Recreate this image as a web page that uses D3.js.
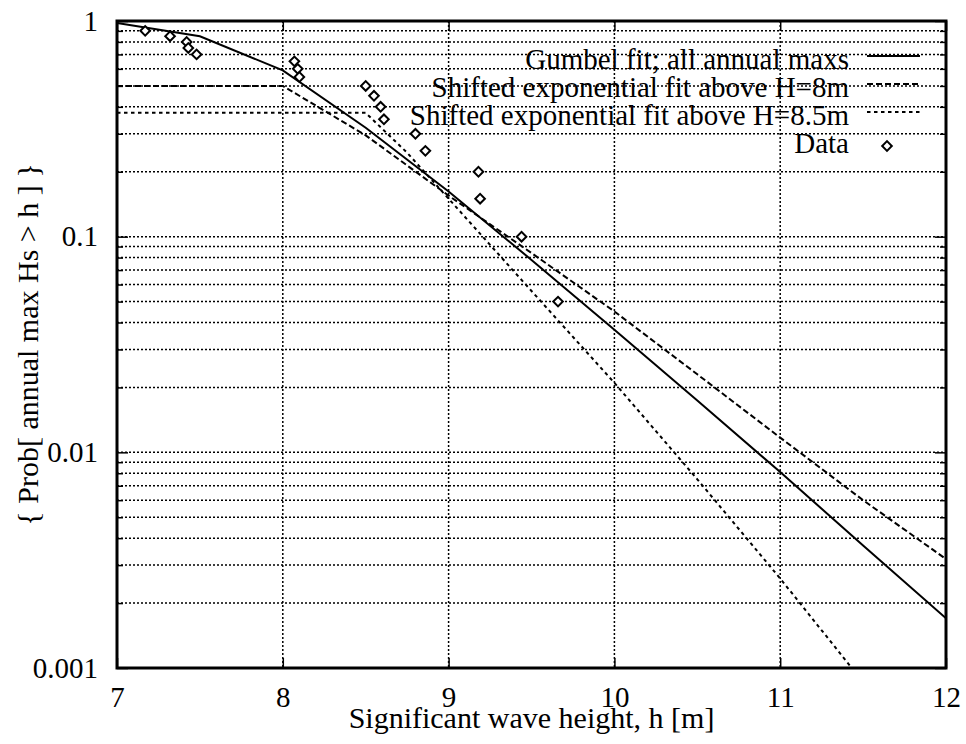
<!DOCTYPE html>
<html>
<head>
<meta charset="utf-8">
<script src="https://cdn.jsdelivr.net/npm/d3@7"></script>
<style>
body { margin: 0; background: #fff; }
svg text { font-family: "Liberation Serif", "DejaVu Serif", "Times New Roman", Times, serif !important; fill: #000; }
.grid line { stroke: #000; stroke-width: 1.5; stroke-dasharray: 2,2; }
.tick-axis .domain { display: none; }
.tick-axis line { stroke: #000; stroke-width: 1.5; }
</style>
</head>
<body>
<div id="chart"></div>
<script>
// fitted curves
var gumbelH = [7, 7.5, 8, 8.5, 9, 9.5, 10, 10.5, 11, 11.5, 12];
var gumbelP = [0.98, 0.85, 0.59, 0.32, 0.162, 0.078, 0.037, 0.0174, 0.0081, 0.0037, 0.0017];

var exp8H = [7, 8, 8.5, 9, 9.5, 10, 10.5, 11, 11.5, 12];
var exp8P = [0.5, 0.5, 0.295, 0.155, 0.084, 0.045, 0.023, 0.0117, 0.006, 0.0032];

var exp85H = [7, 8.5, 8.75, 9, 9.5, 10, 10.5, 11, 11.5];
var exp85P = [0.375, 0.375, 0.245, 0.15, 0.056, 0.021, 0.0075, 0.0026, 0.00086];

// observed annual maxima
var dataH = [7.17, 7.32, 7.42, 7.43, 7.48, 8.07, 8.09, 8.10, 8.50, 8.55, 8.59, 8.61, 8.80, 8.86, 9.18, 9.19, 9.44, 9.66];
var dataP = [0.9, 0.85, 0.8, 0.75, 0.7, 0.65, 0.6, 0.55, 0.5, 0.45, 0.4, 0.35, 0.3, 0.25, 0.2, 0.15, 0.1, 0.05];

var xTicks = [7, 8, 9, 10, 11, 12];
var yTicks = [0.001, 0.01, 0.1, 1];
var yTickLabels = ["0.001", "0.01", "0.1", "1"];

var legendLabels = ["Gumbel fit; all annual maxs", "Shifted exponential fit above H=8m",
                    "Shifted exponential fit above H=8.5m", "Data"];

function init() {
    var W = 966, H = 744;
    var left = 117, right = 946, top = 21, bottom = 668;
    var fs = 29;

    var x = d3.scaleLinear().domain([7, 12]).range([left, right]),
        y = d3.scaleLog().domain([0.001, 1]).range([bottom, top]);

    var minorY = [];
    yTicks.slice(0, 3).forEach(function(d) {
        for (var k = 1; k < 10; k++) minorY.push(d * k);
    });
    minorY.push(1);

    var svg = d3.select("#chart").append("svg")
        .attr("width", W)
        .attr("height", H);

    svg.append("defs").append("clipPath").attr("id", "plot")
       .append("rect").attr("x", left).attr("y", top)
       .attr("width", right - left).attr("height", bottom - top);

    // grid
    var grid = svg.append("g").attr("class", "grid");
    grid.selectAll(".hg")
        .data(minorY.filter(function(d) { return d > 0.0011 && d < 0.99; }))
        .enter().append("line")
        .attr("x1", left).attr("x2", right)
        .attr("y1", function(d) { return y(d); })
        .attr("y2", function(d) { return y(d); });
    grid.selectAll(".vg")
        .data(xTicks.slice(1, -1))
        .enter().append("line")
        .attr("y1", top).attr("y2", bottom)
        .attr("x1", function(d) { return x(d); })
        .attr("x2", function(d) { return x(d); });

    // tick marks (inward) on all four sides
    var isMajor = function(d) { return yTicks.some(function(t) { return Math.abs(t - d) < 1e-9; }); };
    [[d3.axisRight, left], [d3.axisLeft, right]].forEach(function(a) {
        var g = svg.append("g").attr("class", "tick-axis")
            .attr("transform", "translate(" + a[1] + ",0)")
            .call(a[0](y).tickValues(minorY).tickFormat("").tickSize(6));
        g.selectAll(".tick line").attr("x2", function(d) {
            var s = isMajor(d) ? 11 : 6;
            return a[1] === left ? s : -s;
        });
    });
    svg.append("g").attr("class", "tick-axis")
       .attr("transform", "translate(0," + bottom + ")")
       .call(d3.axisTop(x).tickValues(xTicks).tickFormat("").tickSize(10));
    svg.append("g").attr("class", "tick-axis")
       .attr("transform", "translate(0," + top + ")")
       .call(d3.axisBottom(x).tickValues(xTicks).tickFormat("").tickSize(10));

    // tick labels
    var xAxis = svg.append("g").attr("class", "tick-axis")
        .attr("transform", "translate(0," + bottom + ")")
        .call(d3.axisBottom(x).tickValues(xTicks).tickFormat(d3.format("d")).tickSize(0).tickPadding(18));
    xAxis.selectAll("text").attr("font-size", fs).attr("dy", "0.71em");

    var yAxis = svg.append("g").attr("class", "tick-axis")
        .attr("transform", "translate(" + left + ",0)")
        .call(d3.axisLeft(y).tickValues(yTicks)
              .tickFormat(function(d, i) { return yTickLabels[i]; })
              .tickSize(0).tickPadding(19));
    yAxis.selectAll("text").attr("font-size", fs);

    // curves
    var line = d3.line()
        .x(function(d) { return x(d[0]); })
        .y(function(d) { return y(d[1]); });
    var curves = [
        {h: gumbelH, p: gumbelP, dash: null},
        {h: exp8H, p: exp8P, dash: "6,3"},
        {h: exp85H, p: exp85P, dash: "3.5,3.5"}
    ];
    var plot = svg.append("g").attr("clip-path", "url(#plot)");
    curves.forEach(function(c) {
        plot.append("path")
            .datum(d3.zip(c.h, c.p))
            .attr("d", line)
            .attr("fill", "none")
            .attr("stroke", "#000")
            .attr("stroke-width", 2)
            .attr("stroke-dasharray", c.dash);
    });

    var diamond = d3.symbol().type(d3.symbolSquare).size(46);
    plot.selectAll(".pt")
        .data(d3.zip(dataH, dataP))
        .enter().append("path")
        .attr("d", diamond)
        .attr("transform", function(d) { return "translate(" + x(d[0]) + "," + y(d[1]) + ") rotate(45)"; })
        .attr("fill", "#fff")
        .attr("stroke", "#000")
        .attr("stroke-width", 2);

    // frame
    svg.append("rect")
       .attr("x", left).attr("y", top)
       .attr("width", right - left).attr("height", bottom - top)
       .attr("fill", "none").attr("stroke", "#000").attr("stroke-width", 3);

    // legend
    var leg = svg.append("g");
    legendLabels.forEach(function(t, i) {
        var cy = 59 + i * 28;
        leg.append("text")
           .attr("x", 849).attr("y", cy).attr("dy", "0.35em")
           .attr("text-anchor", "end").attr("font-size", fs)
           .text(t);
        if (i < 3) {
            leg.append("line")
               .attr("x1", 867).attr("x2", 920)
               .attr("y1", cy - 3).attr("y2", cy - 3)
               .attr("stroke", "#000").attr("stroke-width", 2)
               .attr("stroke-dasharray", curves[i].dash);
        } else {
            leg.append("path")
               .attr("d", diamond)
               .attr("transform", "translate(887," + (cy + 3) + ") rotate(45)")
               .attr("fill", "#fff").attr("stroke", "#000").attr("stroke-width", 2);
        }
    });

    // axis titles
    svg.append("text")
       .attr("x", (left + right) / 2).attr("y", 728)
       .attr("text-anchor", "middle").attr("font-size", fs + 1)
       .text("Significant wave height, h [m]");
    svg.append("text")
       .attr("transform", "translate(38," + (top + bottom) / 2 + ") rotate(-90)")
       .attr("text-anchor", "middle").attr("font-size", fs + 1)
       .text("{ Prob[ annual max Hs > h ] }");
}
init();
</script>
</body>
</html>
